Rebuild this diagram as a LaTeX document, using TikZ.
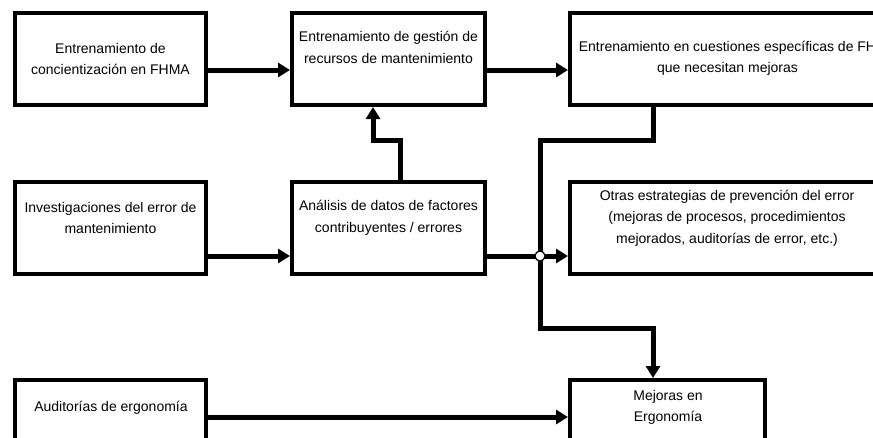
\documentclass[tikz,border=0pt]{standalone}
\usepackage{fontspec}
\setmainfont{Liberation Sans}
\usetikzlibrary{arrows.meta}
\begin{document}
\begin{tikzpicture}[x=1pt,y=-1pt,
  box/.style={draw, line width=4pt, rectangle, minimum height=92pt, inner sep=0pt, outer sep=2pt},
  txt/.style={align=center, font=\fontsize{14pt}{21.5pt}\selectfont, inner sep=0pt},
  arr/.style={line width=5pt, -{Triangle[length=12pt,width=14pt]}},
  ln/.style={line width=5pt}]
\useasboundingbox (0,0) rectangle (873,437);
\clip (0,0) rectangle (873,437);
% boxes
\node[box, minimum width=191pt] (A) at (110.5,59) {};
\node[box, minimum width=193pt] (B) at (388.5,59) {};
\node[box, minimum width=315pt] (C) at (727.5,59) {};
\node[box, minimum width=191pt] (D) at (110.5,228) {};
\node[box, minimum width=193pt] (E) at (388.5,228) {};
\node[box, minimum width=315pt] (F) at (727.5,228) {};
\node[box, minimum width=191pt] (G) at (110.5,426) {};
\node[box, minimum width=195pt] (H) at (667.5,426) {};
% texts
\node[txt] (tA) at (110.5,59) {Entrenamiento de\\concientización en FHMA};
\node[txt] (tB) at (388.5,47.5) {Entrenamiento de gestión de\\recursos de mantenimiento};
\node[txt] (tC) at (727.5,58.5) {Entrenamiento en cuestiones específicas de FH\\que necesitan mejoras};
\node[txt] (tD) at (110.5,218) {Investigaciones del error de\\mantenimiento};
\node[txt] (tE) at (388.5,218) {Análisis de datos de factores\\contribuyentes / errores};
\node[txt] (tF) at (727,218) {Otras estrategias de prevención del error\\(mejoras de procesos, procedimientos\\mejorados, auditorías de error, etc.)};
\node[txt] (tG) at (111,408) {Auditorías de ergonomía};
\node[txt] (tH) at (668,407.5) {Mejoras en\\Ergonomía};
% coordinates
\coordinate (k1) at (400,140);
\coordinate (j1) at (540,140);
\coordinate (j2) at (540,328);
% connectors
\draw[arr] ([yshift=-11pt]A.east) -- ([yshift=-11pt]B.west);
\draw[arr] ([yshift=-11pt]B.east) -- ([yshift=-11pt]C.west);
\draw[arr] ([yshift=-28pt]D.east) -- ([yshift=-28pt]E.west);
\draw[arr] ([yshift=-28pt]E.east) -- ([yshift=-28pt]F.west);
\draw[arr] ([xshift=11.5pt]E.north) -- (k1) -| ([xshift=-15.5pt]B.south);
\draw[arr] ([xshift=-74.5pt]C.south) |- (j1) -- (j2) -| ([xshift=-14.5pt]H.north);
\draw[arr] ([yshift=9pt]G.east) -- ([yshift=9pt]H.west);
\node[circle, draw, fill=white, line width=1.2pt, minimum size=10pt, inner sep=0pt] (jc) at (540,256) {};
\end{tikzpicture}
\end{document}
